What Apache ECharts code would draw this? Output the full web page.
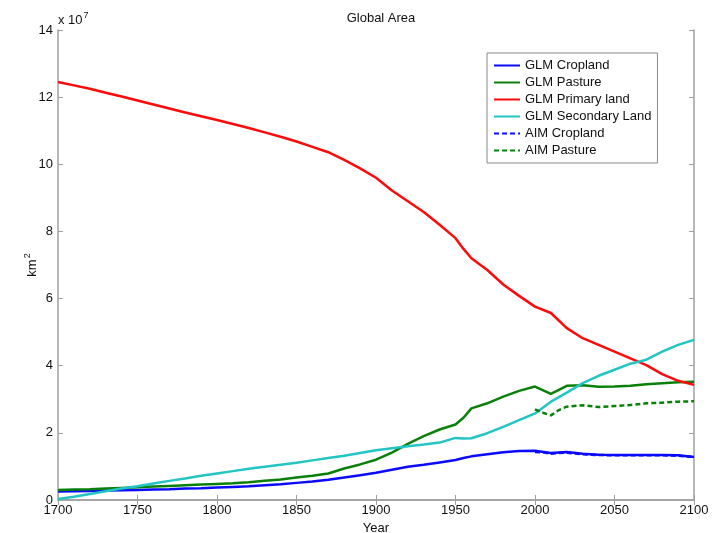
<!DOCTYPE html>
<html>
<head>
<meta charset="utf-8">
<script src="https://cdn.jsdelivr.net/npm/echarts@6/dist/echarts.min.js"></script>
<style>html,body{margin:0;padding:0;background:#fff}#c{width:726px;height:533px}</style>
</head>
<body>
<div id="c"></div>
<script>
var glmYears = [1700,1710,1720,1730,1740,1750,1760,1770,1780,1790,1800,1810,1820,1830,1840,1850,1860,1870,1880,1890,1900,1910,1920,1930,1940,1950,1955,1960,1970,1980,1990,2000,2010,2020,2030,2040,2050,2060,2070,2080,2090,2100];
var glmCropland = [0.25,0.26,0.27,0.28,0.29,0.30,0.31,0.32,0.34,0.35,0.37,0.39,0.41,0.44,0.47,0.51,0.55,0.60,0.67,0.74,0.81,0.90,0.99,1.05,1.12,1.19,1.25,1.30,1.36,1.42,1.46,1.47,1.40,1.43,1.38,1.35,1.34,1.34,1.34,1.34,1.33,1.28];
var glmPasture = [0.30,0.31,0.32,0.34,0.36,0.38,0.40,0.42,0.44,0.46,0.48,0.50,0.53,0.57,0.61,0.67,0.72,0.79,0.94,1.06,1.20,1.41,1.67,1.90,2.10,2.25,2.45,2.73,2.88,3.08,3.25,3.38,3.16,3.40,3.42,3.37,3.38,3.40,3.45,3.48,3.51,3.52];
var glmPrimary = [12.45,12.35,12.25,12.13,12.02,11.90,11.78,11.66,11.54,11.43,11.32,11.20,11.08,10.95,10.82,10.68,10.52,10.36,10.13,9.88,9.60,9.22,8.90,8.58,8.20,7.80,7.48,7.20,6.85,6.42,6.08,5.76,5.57,5.12,4.82,4.62,4.42,4.22,4.02,3.75,3.55,3.43];
var glmSecondary = [0.03,0.10,0.18,0.26,0.34,0.41,0.49,0.57,0.64,0.72,0.79,0.86,0.93,0.99,1.05,1.11,1.18,1.25,1.32,1.40,1.48,1.54,1.60,1.65,1.71,1.85,1.83,1.84,1.99,2.18,2.38,2.58,2.93,3.20,3.48,3.70,3.88,4.06,4.18,4.42,4.62,4.77];
var aimYears = [2000,2005,2010,2015,2020,2030,2040,2050,2060,2070,2080,2090,2100];
var aimCropland = [1.43,1.42,1.38,1.40,1.41,1.36,1.34,1.33,1.33,1.33,1.33,1.32,1.28];
var aimPasture = [2.70,2.60,2.52,2.68,2.78,2.82,2.77,2.80,2.83,2.88,2.90,2.93,2.94];
var xTicks = [1700,1750,1800,1850,1900,1950,2000,2050,2100];
var yTicks = [0,2,4,6,8,10,12,14];

function pairs(xs, ys){ return xs.map(function(x,i){ return [x, ys[i]]; }); }

var FONT = 'Liberation Sans, Arial, sans-serif';
var axisCol = '#a0a0a0';
var chart = echarts.init(document.getElementById('c'));

function mkSeries(name, xs, ys, color, dashed){
  return {
    name: name, type: 'line', data: pairs(xs, ys), symbol: 'none', showSymbol: false,
    lineStyle: {color: color, width: 2.5, type: dashed ? [5,3] : 'solid'},
    itemStyle: {color: color}, animation: false, z: 3
  };
}

chart.setOption({
  animation: false,
  backgroundColor: '#fff',
  title: {text: 'Global Area', left: 376, top: 7, textAlign: 'center',
    textStyle: {fontFamily: FONT, fontSize: 13, fontWeight: 'normal', color: '#111'}},
  grid: {left: 58, right: 32, top: 30, bottom: 33, containLabel: false, outerBoundsMode: 'none'},
  legend: {
    orient: 'vertical', left: 487, top: 53,
    padding: [6, 6, 6, 6], itemGap: 4, itemWidth: 26, itemHeight: 14,
    borderColor: '#888', borderWidth: 1, backgroundColor: '#fff',
    itemStyle: {opacity: 0, borderWidth: 0},
    textStyle: {fontFamily: FONT, fontSize: 13, color: '#111'},
    data: ['GLM Cropland','GLM Pasture','GLM Primary land','GLM Secondary Land','AIM Cropland','AIM Pasture']
  },
  xAxis: [{
    type: 'value', min: 1700, max: 2100, interval: 50,
    name: 'Year', nameLocation: 'middle', nameGap: 18,
    nameTextStyle: {fontFamily: FONT, fontSize: 13, color: '#111'},
    axisLine: {lineStyle: {color: axisCol, width: 1.5}},
    axisTick: {inside: true, length: 5, lineStyle: {color: axisCol}},
    axisLabel: {fontFamily: FONT, fontSize: 13, color: '#111', margin: 4,
      formatter: function(v){ return xTicks.indexOf(v) >= 0 ? String(v) : ''; }},
    splitLine: {show: false}
  },{
    type: 'value', min: 1700, max: 2100, interval: 50, position: 'top',
    axisLine: {lineStyle: {color: axisCol, width: 1.5}},
    axisTick: {inside: true, length: 5, lineStyle: {color: axisCol}},
    axisLabel: {show: false}, splitLine: {show: false}
  }],
  yAxis: [{
    type: 'value', min: 0, max: 14, interval: 2,
    axisLine: {show: true, lineStyle: {color: axisCol, width: 1.5}},
    axisTick: {show: true, inside: true, length: 5, lineStyle: {color: axisCol}},
    axisLabel: {fontFamily: FONT, fontSize: 13, color: '#111', margin: 5,
      formatter: function(v){ return yTicks.indexOf(v) >= 0 ? String(v) : ''; }},
    splitLine: {show: false}
  },{
    type: 'value', min: 0, max: 14, interval: 2, position: 'right',
    axisLine: {show: true, lineStyle: {color: axisCol, width: 1.5}},
    axisTick: {show: true, inside: true, length: 5, lineStyle: {color: axisCol}},
    axisLabel: {show: false}, splitLine: {show: false}
  }],
  graphic: [{
    type: 'text', left: 58, top: 11,
    style: {
      text: '{a|x 10}{b|7}',
      rich: {
        a: {fontFamily: FONT, fontSize: 13, fill: '#111', verticalAlign: 'bottom', lineHeight: 16},
        b: {fontFamily: FONT, fontSize: 9, fill: '#111', verticalAlign: 'top', lineHeight: 16, padding: [0,0,8,1]}
      }
    }
  },{
    type: 'text', x: 31, y: 265, rotation: Math.PI / 2,
    style: {
      text: '{a|km}{b|2}', align: 'center', verticalAlign: 'middle',
      rich: {
        a: {fontFamily: FONT, fontSize: 13, fill: '#111', verticalAlign: 'bottom', lineHeight: 16},
        b: {fontFamily: FONT, fontSize: 9, fill: '#111', verticalAlign: 'top', lineHeight: 16, padding: [0,0,7,1]}
      }
    }
  }],
  series: [
    mkSeries('GLM Cropland', glmYears, glmCropland, '#0a0aff', false),
    mkSeries('GLM Pasture', glmYears, glmPasture, '#0a800a', false),
    mkSeries('GLM Primary land', glmYears, glmPrimary, '#ff0a0a', false),
    mkSeries('GLM Secondary Land', glmYears, glmSecondary, '#22c4c4', false),
    mkSeries('AIM Cropland', aimYears, aimCropland, '#0a0aff', true),
    mkSeries('AIM Pasture', aimYears, aimPasture, '#0a800a', true)
  ]
});
</script>
</body>
</html>
